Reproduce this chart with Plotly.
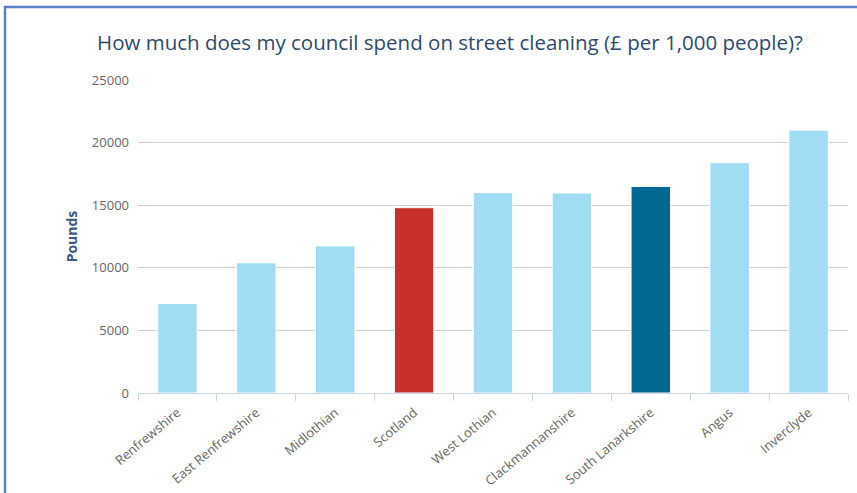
import plotly.graph_objects as go

categories = ["Renfrewshire", "East Renfrewshire", "Midlothian", "Scotland", "West Lothian",
              "Clackmannanshire", "South Lanarkshire", "Angus", "Inverclyde"]
values = [7150, 10400, 11750, 14800, 16000, 15980, 16500, 18400, 21000]
bar_colors = ["#a0dcf4", "#a0dcf4", "#a0dcf4", "#c8302c", "#a0dcf4",
              "#a0dcf4", "#006892", "#a0dcf4", "#a0dcf4"]
y_ticks = [0, 5000, 10000, 15000, 20000, 25000]
y_tick_labels = ["0", "5000", "10000", "15000", "20000", "25000"]

W, H = 857, 493
L, R, T, B = 138, 9, 80, 100
pw, ph = W - L - R, H - T - B

def px_x(x):
    return (x - L) / pw

def px_y(y):
    return (H - B - y) / ph

fig = go.Figure(go.Bar(
    x=categories, y=values,
    marker=dict(color=bar_colors, line=dict(color="white", width=1)),
    width=0.5,
    hoverinfo="x+y",
))

border_color = "#5b80c8"
fig.add_shape(type="line", xref="paper", yref="paper",
              x0=px_x(5), x1=px_x(5), y0=px_y(6), y1=px_y(H + 5),
              line=dict(color=border_color, width=2.5))
fig.add_shape(type="line", xref="paper", yref="paper",
              x0=px_x(4), x1=px_x(W + 5), y0=px_y(7), y1=px_y(7),
              line=dict(color=border_color, width=2.5))

fig.update_layout(
    width=W, height=H,
    margin=dict(l=L, r=R, t=T, b=B, autoexpand=False),
    paper_bgcolor="white", plot_bgcolor="white",
    font=dict(family="Open Sans, sans-serif", color="#666666", size=12),
    title=dict(
        text="How much does my council spend on street cleaning (£ per 1,000 people)?",
        x=450 / W, xanchor="center", y=1 - 43 / H, yanchor="middle",
        font=dict(size=20.5, color="#2e4a6e", family="Open Sans, sans-serif"),
    ),
    showlegend=False,
    xaxis=dict(
        tickangle=-40,
        tickson="boundaries",
        ticks="outside", ticklen=7, tickcolor="#ccd6eb", tickwidth=1,
        showline=True, linecolor="#ccd6eb", linewidth=1,
        showgrid=False,
        ticklabelstandoff=6,
        tickfont=dict(size=13, color="#666666"),
    ),
    yaxis=dict(
        range=[0, 25000],
        tickvals=y_ticks,
        ticktext=y_tick_labels,
        showgrid=True, gridcolor="#d0d0d0", gridwidth=1,
        zeroline=False,
        showline=False,
        ticks="",
        ticklabelstandoff=8,
        tickfont=dict(size=13, color="#666666"),
        title=dict(text="<b>Pounds</b>", font=dict(size=14, color="#3b5b85"), standoff=10),
    ),
)

fig.write_html("out.html", config={"displayModeBar": False},
               post_script="document.body.style.margin='0';")
